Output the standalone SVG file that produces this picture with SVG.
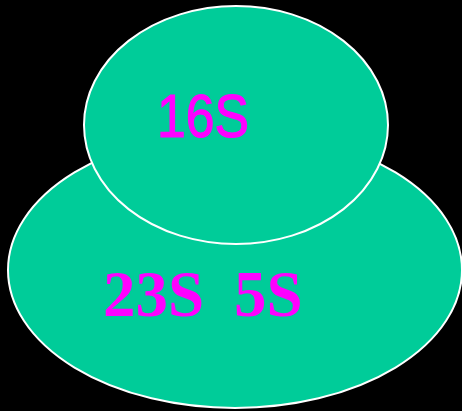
<svg xmlns="http://www.w3.org/2000/svg" width="462" height="411" viewBox="0 0 462 411">
<style>
.e{fill:#00CC99;stroke:#FFFFFF;stroke-width:2}
.t1{font-family:"Liberation Sans",Arial,sans-serif;font-size:61px;fill:#FF00FF;stroke:#FF00FF;stroke-width:1.2}
.t2{font-family:"Liberation Serif","Times New Roman",serif;font-weight:bold;font-size:65px;fill:#FF00FF}
</style>
<rect width="462" height="411" fill="#000000"/>
<g id="large">
<ellipse class="e" cx="235" cy="270" rx="227" ry="138"/>
<text class="t2" x="103" y="316">23S</text>
<text class="t2" x="234" y="316">5S</text>
</g>
<g id="small">
<ellipse class="e" cx="236" cy="125" rx="152" ry="119"/>
<text class="t1" x="157" y="137" textLength="92" lengthAdjust="spacingAndGlyphs">16S</text>
</g>
<g id="connectors"/>
</svg>
